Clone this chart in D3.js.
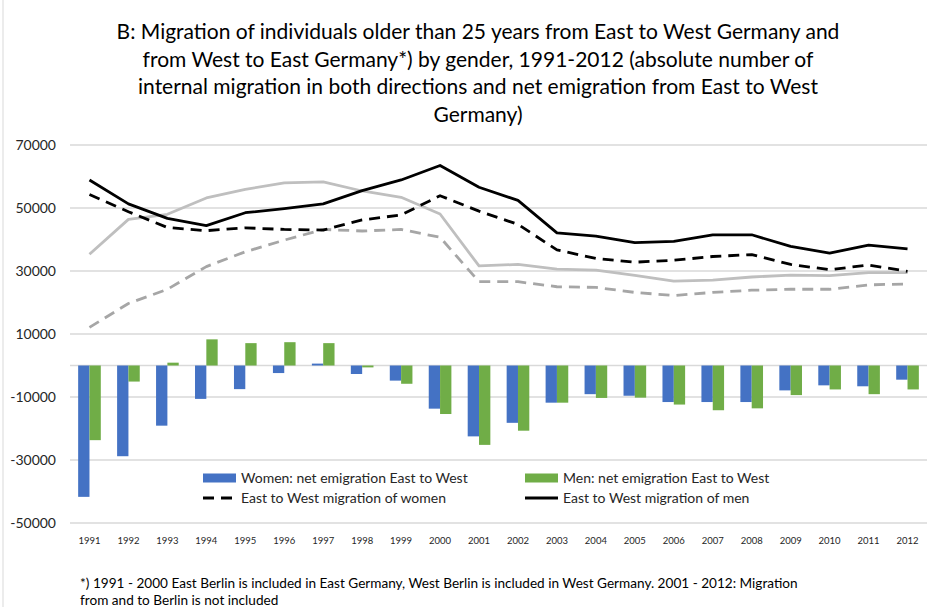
<!DOCTYPE html>
<html>
<head>
<meta charset="utf-8">
<script src="https://cdn.jsdelivr.net/npm/d3@7"></script>
<style>
  body { margin: 0; background: #fff; }
  svg text { font-family: Lato, "Liberation Sans", sans-serif; }
</style>
</head>
<body>
<svg id="chart" width="934" height="607"></svg>
<script>
// values
const years = ["1991","1992","1993","1994","1995","1996","1997","1998","1999","2000","2001",
    "2002","2003","2004","2005","2006","2007","2008","2009","2010","2011","2012"];

const womenNet = [-41700, -28800, -19100, -10600, -7500, -2400, 600, -2700, -4800, -13700, -22500,
    -18200, -11800, -9100, -9600, -11600, -11600, -11600, -7900, -6300, -6600, -4500];
const menNet = [-23700, -5100, 900, 8300, 7100, 7400, 7100, -600, -5800, -15400, -25200,
    -20700, -11800, -10300, -10200, -12400, -14200, -13600, -9400, -7600, -9100, -7600];

const eastWestWomen = [54300, 48800, 43800, 42800, 43700, 43200, 43000, 46200, 47800, 53900, 49000,
    44800, 36700, 34000, 32800, 33400, 34600, 35200, 32100, 30400, 31900, 29900];
const eastWestMen = [58900, 51300, 46700, 44400, 48500, 49800, 51300, 55500, 58900, 63500, 56600,
    52400, 42100, 41100, 39000, 39400, 41500, 41500, 37800, 35700, 38200, 37000];
const westEastWomen = [12100, 19700, 24200, 31400, 36100, 39800, 43200, 42700, 43200, 40700, 26600,
    26600, 25000, 24800, 23200, 22200, 23200, 23900, 24200, 24200, 25600, 25900];
const westEastMen = [35300, 46400, 48000, 53200, 55900, 58000, 58300, 55400, 53400, 48100, 31600,
    32100, 30600, 30300, 28600, 26800, 27100, 28100, 28700, 28500, 29500, 29500];

const yTicks = [-50000, -30000, -10000, 10000, 30000, 50000, 70000];

const titleLines = [
    "B: Migration of individuals older than 25 years from East to West Germany and",
    "from West to East Germany*) by gender, 1991-2012 (absolute number of",
    "internal migration in both directions and net emigration from East to West",
    "Germany)"
];
const noteLines = [
    "*) 1991 - 2000 East Berlin is included in East Germany, West Berlin is included in West Germany. 2001 - 2012: Migration",
    "from and to Berlin is not included"
];

const svg = d3.select("#chart");

// chart frame (left edge visible in the reference)
svg.append("line")
    .attr("x1", 3).attr("x2", 3).attr("y1", 0).attr("y2", 607)
    .attr("stroke", "#d9d9d9");

// title
svg.append("g").selectAll("text")
    .data(titleLines)
    .enter().append("text")
    .attr("x", 478)
    .attr("y", function (d, i) { return 39 + i * 27.5; })
    .attr("text-anchor", "middle")
    .attr("font-size", 21)
    .attr("fill", "#000")
    .text(function (d) { return d; });

const x = d3.scaleBand().domain(years).range([70, 927]);
const xSub = d3.scaleBand().domain(["w", "m"]).range([0, x.bandwidth()])
    .paddingInner(0).paddingOuter(0.72);
const y = d3.scaleLinear().domain([-50000, 70000]).range([523, 145]);

// grid
svg.append("g").selectAll("line")
    .data(yTicks.concat([0]))
    .enter().append("line")
    .attr("x1", 70).attr("x2", 927)
    .attr("y1", function (d) { return y(d); })
    .attr("y2", function (d) { return y(d); })
    .attr("stroke", "#d9d9d9")
    .attr("stroke-width", 1.3);

// y labels
svg.append("g").selectAll("text")
    .data(yTicks)
    .enter().append("text")
    .attr("x", 56)
    .attr("y", function (d) { return y(d) + 5; })
    .attr("text-anchor", "end")
    .attr("font-size", 14)
    .attr("fill", "#262626")
    .text(function (d) { return d; });

// x labels
svg.append("g").selectAll("text")
    .data(years)
    .enter().append("text")
    .attr("x", function (d) { return x(d) + x.bandwidth() / 2; })
    .attr("y", 544)
    .attr("text-anchor", "middle")
    .attr("font-size", 9.5)
    .attr("fill", "#262626")
    .text(function (d) { return d; });

// bars
const barSeries = [
    {key: "w", values: womenNet, color: "#4472c4"},
    {key: "m", values: menNet, color: "#70ad47"}
];
barSeries.forEach(function (s) {
    svg.append("g").selectAll("rect")
        .data(s.values)
        .enter().append("rect")
        .attr("x", function (d, i) { return x(years[i]) + xSub(s.key); })
        .attr("width", xSub.bandwidth())
        .attr("y", function (d) { return y(Math.max(0, d)); })
        .attr("height", function (d) { return Math.abs(y(d) - y(0)); })
        .attr("fill", s.color);
});

// lines
const line = d3.line()
    .x(function (d, i) { return x(years[i]) + x.bandwidth() / 2; })
    .y(function (d) { return y(d); });

const lineSeries = [
    {values: westEastWomen, color: "#a6a6a6", dash: "11,7"},
    {values: westEastMen, color: "#bfbfbf", dash: null},
    {values: eastWestWomen, color: "#000", dash: "11,7"},
    {values: eastWestMen, color: "#000", dash: null}
];
lineSeries.forEach(function (s) {
    svg.append("path")
        .datum(s.values)
        .attr("d", line)
        .attr("fill", "none")
        .attr("stroke", s.color)
        .attr("stroke-width", 2.8)
        .attr("stroke-linejoin", "round")
        .attr("stroke-dasharray", s.dash);
});

// legend
const legend = svg.append("g").attr("font-size", 14).attr("fill", "#262626");
const legendItems = [
    {label: "Women: net emigration East to West", type: "bar", color: "#4472c4", lx: 203, ly: 478},
    {label: "Men: net emigration East to West", type: "bar", color: "#70ad47", lx: 525, ly: 478},
    {label: "East to West migration of women", type: "line", dash: "11,7", lx: 203, ly: 498},
    {label: "East to West migration of men", type: "line", dash: null, lx: 525, ly: 498}
];
legendItems.forEach(function (d) {
    if (d.type === "bar") {
        legend.append("rect")
            .attr("x", d.lx).attr("y", d.ly - 4.5)
            .attr("width", 33).attr("height", 9)
            .attr("fill", d.color);
    } else {
        legend.append("line")
            .attr("x1", d.lx).attr("x2", d.lx + 33)
            .attr("y1", d.ly).attr("y2", d.ly)
            .attr("stroke", "#000").attr("stroke-width", 2.8)
            .attr("stroke-dasharray", d.dash);
    }
    legend.append("text")
        .attr("x", d.lx + 38)
        .attr("y", d.ly + 5)
        .attr("fill", "#262626")
        .text(d.label);
});

// footnote
svg.append("g").selectAll("text")
    .data(noteLines)
    .enter().append("text")
    .attr("x", 80)
    .attr("y", function (d, i) { return 588 + i * 17; })
    .attr("font-size", 13.6)
    .attr("fill", "#000")
    .text(function (d) { return d; });
</script>
</body>
</html>
